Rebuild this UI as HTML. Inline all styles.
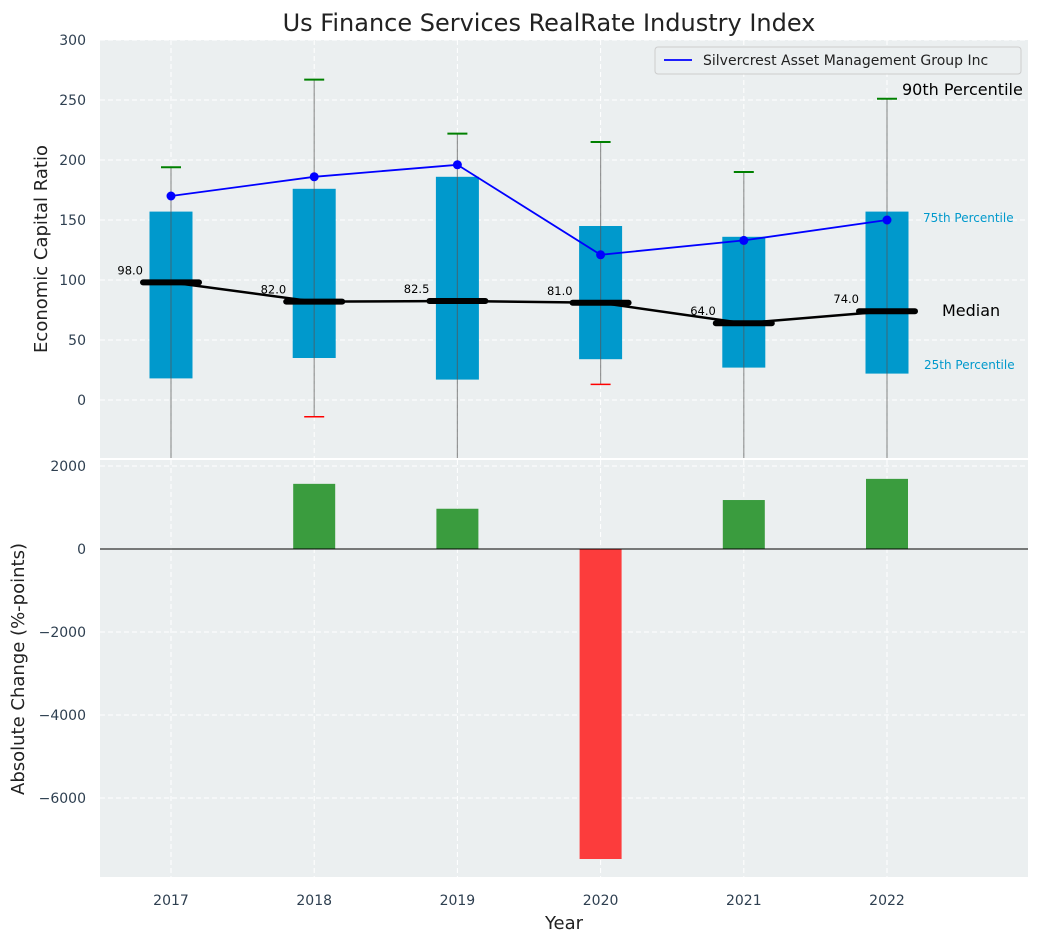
<!DOCTYPE html>
<html><head><meta charset="utf-8"><style>
body{margin:0;background:#fff;font-family:"Liberation Sans","DejaVu Sans",sans-serif}
</style></head><body>
<svg id="c" width="1039" height="942" xmlns="http://www.w3.org/2000/svg" font-family="'DejaVu Sans','Liberation Sans',sans-serif"></svg>
<script>
const years=[2017,2018,2019,2020,2021,2022];
const q1=[18,35,17,34,27,22];
const q3=[157,176,186,145,136,157];
const whiskLow=[-60,-14,-60,13,-60,-60];
const whiskHigh=[194,267,222,215,190,251];
const medians=[98,82,82.5,81,64,74];
const company=[170,186,196,121,133,150];
const changes=[0,1570,970,-7470,1180,1690];
const topTicks=[0,50,100,150,200,250,300];
const botTicks=[2000,0,-2000,-4000,-6000];
const NS="http://www.w3.org/2000/svg";
const svg=document.getElementById('c');
function el(t,a,txt){const e=document.createElementNS(NS,t);for(const k in a)e.setAttribute(k,a[k]);if(txt!==undefined)e.textContent=txt;svg.appendChild(e);return e;}
const X=y=>171+(y-2017)*143.2;
const YT=v=>400-1.2*v;
const YB=v=>549-0.0415*v;
const L=100,R=1028;
let e;
e=el('rect',{x:L,y:40,width:R-L,height:418,fill:'#ebeff0'});
e=el('rect',{x:L,y:460,width:R-L,height:417,fill:'#ebeff0'});
topTicks.forEach(t=>{const y=YT(t);
el('line',{x1:L,x2:R,y1:y,y2:y,stroke:'#fff','stroke-dasharray':'5,3','stroke-width':1});
e=el('text',{x:L-14,y:y+5,'text-anchor':'end','font-size':14,fill:'#2e3f50'},t);});
botTicks.forEach(t=>{const y=YB(t);
el('line',{x1:L,x2:R,y1:y,y2:y,stroke:'#fff','stroke-dasharray':'5,3','stroke-width':1});
e=el('text',{x:L-14,y:y+5,'text-anchor':'end','font-size':14,fill:'#2e3f50'},t<0?'\u2212'+(-t):t);});
years.forEach(yr=>{const x=X(yr);
el('line',{x1:x,x2:x,y1:40,y2:458,stroke:'#fff','stroke-dasharray':'5,3'});
el('line',{x1:x,x2:x,y1:460,y2:877,stroke:'#fff','stroke-dasharray':'5,3'});
e=el('text',{x:x,y:905,'text-anchor':'middle','font-size':14,fill:'#2e3f50'},yr);});
// clip top
const cp=el('clipPath',{id:'tc'});const cr=document.createElementNS(NS,'rect');cr.setAttribute('x',L);cr.setAttribute('y',40);cr.setAttribute('width',R-L);cr.setAttribute('height',418);cp.appendChild(cr);
const g=el('g',{'clip-path':'url(#tc)'});
function gel(t,a,txt){const n=el(t,a,txt);g.appendChild(n);return n;}
years.forEach((yr,i)=>{const x=X(yr);
e=gel('rect',{x:x-21.5,y:YT(q3[i]),width:43,height:YT(q1[i])-YT(q3[i]),fill:'#0099cc'});
e=gel('line',{x1:x,x2:x,y1:YT(whiskHigh[i]),y2:YT(whiskLow[i]),stroke:'#555','stroke-opacity':0.6,'stroke-width':1.2});
e=gel('line',{x1:x-10,x2:x+10,y1:YT(whiskHigh[i]),y2:YT(whiskHigh[i]),stroke:'green','stroke-width':2});
e=gel('line',{x1:x-10,x2:x+10,y1:YT(whiskLow[i]),y2:YT(whiskLow[i]),stroke:'red','stroke-width':1.5});
});
e=gel('polyline',{points:years.map((y,i)=>X(y)+','+YT(medians[i])).join(' '),fill:'none',stroke:'#000','stroke-width':2.5});
years.forEach((yr,i)=>{const x=X(yr),y=YT(medians[i]);
e=gel('line',{x1:x-28,x2:x+28,y1:y,y2:y,stroke:'#000','stroke-width':6,'stroke-linecap':'round'});
e=gel('text',{x:x-28,y:y-8,'text-anchor':'end','font-size':11.5,fill:'#000'},medians[i].toFixed(1));});
e=gel('polyline',{points:years.map((y,i)=>X(y)+','+YT(company[i])).join(' '),fill:'none',stroke:'blue','stroke-width':1.8});
years.forEach((yr,i)=>{e=gel('circle',{cx:X(yr),cy:YT(company[i]),r:4.5,fill:'blue'});});
// annotations
const lx=X(2022);
e=el('text',{x:lx+15,y:95,'font-size':16,fill:'#000'},'90th Percentile');
e=el('text',{x:lx+36,y:222,'font-size':12,fill:'#0099cc'},'75th Percentile');
e=el('text',{x:lx+55,y:316,'font-size':16,fill:'#000'},'Median');
e=el('text',{x:lx+37,y:369,'font-size':12,fill:'#0099cc'},'25th Percentile');
// legend
e=el('rect',{x:655,y:47,width:366,height:27,fill:'#ebeff0',stroke:'#ccc',rx:3});
el('line',{x1:664,x2:692,y1:60,y2:60,stroke:'blue','stroke-width':1.8});
e=el('text',{x:703,y:65,'font-size':14,fill:'#222'},'Silvercrest Asset Management Group Inc');
// bars
years.forEach((yr,i)=>{const v=changes[i];if(v===0)return;const y0=YB(0),y1=YB(v);
e=el('rect',{x:X(yr)-21,y:Math.min(y0,y1),width:42,height:Math.abs(y1-y0),fill:v>=0?'#3a9c3e':'#fc3c3c'});});
el('line',{x1:L,x2:R,y1:YB(0),y2:YB(0),stroke:'#000','stroke-width':1});
// titles
e=el('text',{x:549,y:31,'text-anchor':'middle','font-size':24,fill:'#222'},'Us Finance Services RealRate Industry Index');
e=el('text',{x:47,y:249,'text-anchor':'middle','font-size':18,fill:'#222',transform:'rotate(-90 47 249)'},'Economic Capital Ratio');
e=el('text',{x:24,y:669,'text-anchor':'middle','font-size':18,fill:'#222',transform:'rotate(-90 24 669)'},'Absolute Change (%-points)');
e=el('text',{x:564,y:929,'text-anchor':'middle','font-size':18,fill:'#222'},'Year');
</script>
</body></html>
